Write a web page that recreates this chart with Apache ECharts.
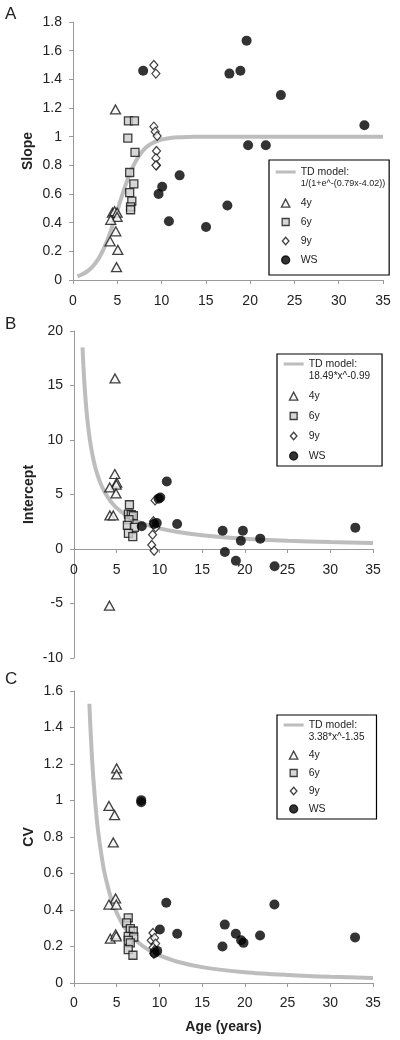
<!DOCTYPE html>
<html><head><meta charset="utf-8">
<script src="https://cdn.jsdelivr.net/npm/echarts@6/dist/echarts.min.js"></script>
<style>html,body{margin:0;padding:0;background:#fff}#c{width:400px;height:1040px}</style>
</head><body><div id="c"></div>
<script>
// ---------- Panel A : Slope ----------
const slope4y = [[4.8,1.19],[4.45,0.47],[4.7,0.48],[4.98,0.47],[4.98,0.44],[4.26,0.42],[4.83,0.34],[4.19,0.27],[5.06,0.21],[4.91,0.09]];
const slope6y = [[6.26,1.11],[6.94,1.11],[6.19,0.99],[7.0,0.89],[6.4,0.75],[6.87,0.67],[6.4,0.61],[6.64,0.55],[6.5,0.51],[6.5,0.49]];
const slope9y = [[9.13,1.50],[9.36,1.44],[9.13,1.07],[9.28,1.035],[9.5,1.005],[9.43,0.90],[9.36,0.85],[9.43,0.80],[9.36,0.80]];
const slopeWS = [[7.92,1.46],[9.66,0.60],[10.07,0.65],[12.04,0.73],[10.83,0.41],[15.02,0.37],[17.43,0.52],[17.66,1.44],[18.9,1.46],[19.6,1.67],[19.77,0.94],[21.77,0.94],[23.47,1.29],[32.9,1.08]];
const slopeModelX = [0.5,1,1.5,2,2.5,3,3.5,4,4.5,5,5.5,6,6.5,7,7.5,8,8.5,9,9.5,10,11,12,13,14,17,20,25,30,35];
const slopeModelY = [0.026,0.038,0.056,0.080,0.115,0.161,0.222,0.297,0.386,0.482,0.581,0.673,0.753,0.819,0.870,0.909,0.937,0.956,0.970,0.980,0.991,0.996,0.998,0.999,1.0,1.0,1.0,1.0,1.0];

// ---------- Panel B : Intercept ----------
const int4y = [[4.8,15.65],[4.78,6.88],[5.0,6.1],[4.95,5.9],[4.18,5.65],[4.92,5.1],[4.2,3.08],[4.6,3.08],[4.15,-5.2]];
const int6y = [[6.49,4.06],[6.37,3.2],[6.7,3.15],[6.95,3.05],[6.43,2.7],[6.25,2.17],[7.07,1.98],[6.37,1.43],[6.88,1.13]];
const int9y = [[9.49,4.46],[9.3,2.55],[9.3,2.35],[9.57,1.98],[9.2,1.31],[9.1,0.37],[9.38,-0.16]];
const intWS = [[7.93,2.08],[9.38,2.29],[9.69,2.39],[9.9,4.62],[10.1,4.72],[10.86,6.2],[12.07,2.29],[17.4,1.68],[17.66,-0.28],[18.95,-1.07],[19.53,0.76],[19.77,1.68],[21.8,0.95],[23.48,-1.59],[32.93,1.96]];
const intModelX = [1,1.1,1.25,1.5,1.75,2,2.25,2.5,3,3.5,4,4.5,5,6,7,8,10,12,15,20,25,30,35];
const intModelY = [18.49,16.82,14.83,12.37,10.62,9.31,8.29,7.46,6.23,5.35,4.69,4.17,3.76,3.14,2.69,2.36,1.89,1.58,1.27,0.95,0.76,0.64,0.55];

// ---------- Panel C : CV ----------
const cv4y = [[4.99,1.176],[4.99,1.143],[4.09,0.97],[4.75,0.92],[4.6,0.77],[4.87,0.463],[4.09,0.43],[4.95,0.43],[4.25,0.243],[4.87,0.267],[4.95,0.256]];
const cv6y = [[6.35,0.357],[6.16,0.33],[6.59,0.298],[6.94,0.285],[6.35,0.256],[7.0,0.252],[6.35,0.234],[6.59,0.22],[6.35,0.183],[6.9,0.152]];
const cv9y = [[9.24,0.274],[9.04,0.234],[9.43,0.247],[9.55,0.216],[9.27,0.194],[9.43,0.18],[9.35,0.16]];
const cvWS = [[7.87,1.002],[7.87,0.99],[10.05,0.293],[10.8,0.44],[12.08,0.27],[9.43,0.165],[9.74,0.176],[17.38,0.2],[17.65,0.32],[18.94,0.27],[19.56,0.234],[19.84,0.22],[21.78,0.26],[23.46,0.43],[32.9,0.25]];
const cvModelX = [1.8,1.9,2,2.1,2.25,2.4,2.5,2.75,3,3.25,3.5,4,4.5,5,5.5,6,7,8,9,10,12,15,20,25,30,35];
const cvModelY = [1.53,1.42,1.33,1.24,1.13,1.04,0.98,0.86,0.77,0.69,0.62,0.52,0.44,0.385,0.338,0.30,0.244,0.204,0.174,0.151,0.118,0.087,0.059,0.044,0.034,0.028];

// ---------- labels ----------
const panelLetters = ['A','B','C'];
const yNames = ['Slope','Intercept','CV'];
const xName = 'Age (years)';
const modelNames = ['TD model:\n1/(1+e^-(0.79x-4.02))','TD model:\n18.49*x^-0.99','TD model:\n3.38*x^-1.35'];
const groupNames = ['4y','6y','9y','WS'];
const xRange = {min:0, max:35, interval:5};
const yRanges = [{min:0,max:1.8,interval:0.2},{min:-10,max:20,interval:5},{min:0,max:1.6,interval:0.2}];

const FONT = 'Liberation Sans, Arial, sans-serif';
const AXIS_COLOR = '#9a9a9a';
const zip = (xs, ys) => xs.map((x,i)=>[x, ys[i]]);

const groupStyles = [
  {symbol:'triangle', symbolSize:[10,9], itemStyle:{color:'#f4f4f4', borderColor:'#111', borderWidth:1.3}},
  {symbol:'rect', symbolSize:8, itemStyle:{color:'#cdcdcd', borderColor:'#111', borderWidth:1.3}},
  {symbol:'diamond', symbolSize:[8,9], itemStyle:{color:'#ffffff', borderColor:'#111', borderWidth:1.2}},
  {symbol:'circle', symbolSize:10, itemStyle:{color:'#000', borderColor:'#000', borderWidth:0}}
];
// legend glyphs drawn inside a 20x9 icon box (anchor moves keep the box size)
const BOX = 'M0,0M20,9';
const legendIcons = [
  'path://' + BOX + 'M5.8,8.6L10,0.6L14.2,8.6Z',
  'path://' + BOX + 'M6.5,1L13.5,1L13.5,8L6.5,8Z',
  'path://' + BOX + 'M10,0.8L13.3,4.5L10,8.2L6.7,4.5Z',
  'path://' + BOX + 'M6,4.5A4,4 0 1 1 14,4.5A4,4 0 1 1 6,4.5Z'
];

const panels = [
  {groups:[slope4y,slope6y,slope9y,slopeWS], model:zip(slopeModelX,slopeModelY)},
  {groups:[int4y,int6y,int9y,intWS], model:zip(intModelX,intModelY)},
  {groups:[cv4y,cv6y,cv9y,cvWS], model:zip(cvModelX,cvModelY)}
];

const grids = [
  {left:73, top:22, width:310, height:258},
  {left:74, top:331, width:299, height:327},
  {left:74, top:691, width:299, height:292}
];
const xLabelMargins = [14,14,13];
// panel B: the x axis sits on y = 0 (moved up from the grid bottom)
const xOffsets = [0, -109, 0];

const xAxes = grids.map((g,i)=>({
  type:'value', gridIndex:i, min:xRange.min, max:xRange.max, interval:xRange.interval,
  position:'bottom', offset:xOffsets[i],
  name: i===2 ? xName : '', nameLocation:'middle', nameGap:37, nameMoveOverlap:false,
  nameTextStyle:{fontFamily:FONT, fontSize:14, fontWeight:'bold', color:'#222'},
  axisLine:{show:true, onZero:false, lineStyle:{color:AXIS_COLOR, width:1}},
  axisTick:{show:true, length:4, lineStyle:{color:AXIS_COLOR}},
  axisLabel:{fontFamily:FONT, fontSize:14, color:'#222', margin:xLabelMargins[i], showMinLabel:true, showMaxLabel:true, hideOverlap:false},
  splitLine:{show:false}
}));
const yAxes = grids.map((g,i)=>({
  type:'value', gridIndex:i, min:yRanges[i].min, max:yRanges[i].max, interval:yRanges[i].interval,
  name:yNames[i], nameLocation:'middle', nameGap:38, nameMoveOverlap:false,
  nameTextStyle:{fontFamily:FONT, fontSize:14, fontWeight:'bold', color:'#222'},
  axisLine:{show:true, onZero:false, lineStyle:{color:AXIS_COLOR, width:1}},
  axisTick:{show:true, length:4, lineStyle:{color:AXIS_COLOR}},
  axisLabel:{fontFamily:FONT, fontSize:14, color:'#222', margin:11},
  splitLine:{show:false}
}));

const series = [];
panels.forEach((p,i)=>{
  series.push({
    type:'line', name:modelNames[i], xAxisIndex:i, yAxisIndex:i, data:p.model,
    smooth:0.3, symbol:'none', showSymbol:false, silent:true, z:1,
    color:'#bdbdbd', itemStyle:{color:'#bdbdbd'},
    lineStyle:{color:'#bdbdbd', width:4}
  });
  p.groups.forEach((d,k)=>{
    series.push(Object.assign({
      type:'scatter', name:groupNames[k], xAxisIndex:i, yAxisIndex:i, data:d, z:3+k
    }, groupStyles[k]));
  });
});

const legendBase = {
  orient:'vertical', align:'left', itemWidth:20, itemHeight:9,
  backgroundColor:'#fff', borderColor:'#000', borderWidth:1.2,
  itemStyle:{borderWidth:1.3},
  textStyle:{fontFamily:FONT, fontSize:10.5, color:'#222', lineHeight:12},
  selectedMode:false
};
const legendPos = [
  {left:269, top:160, itemGap:7, padding:[-6,4,9,6], f:9},
  {left:277, top:354, itemGap:8, padding:[-8,12,4,6], f:10},
  {left:277, top:715, itemGap:6, padding:[-8,12,4,6], f:10}
];
const legends = legendPos.map((lp,i)=>Object.assign({}, legendBase, {
  left:lp.left, top:lp.top, itemGap:lp.itemGap, padding:lp.padding,
  textStyle:Object.assign({}, legendBase.textStyle, {rich:{f:{fontFamily:FONT, fontSize:lp.f, color:'#222', lineHeight:12}}}),
  formatter:(name)=>{
    if (name.indexOf('\n')>=0){ const parts=name.split('\n'); return parts[0]+'\n{f|'+parts[1]+'}'; }
    return name;
  },
  data:[
    {name:modelNames[i], icon:'path://M0,0L20,0L20,3L0,3Z', itemStyle:{color:'#bdbdbd', borderWidth:0}, textStyle:{padding:[12,0,0,0]}},
    ...groupNames.map((n,k)=>({name:n, icon:legendIcons[k]}))
  ]
}));

const titleTops = [6,316,671];
const titles = panelLetters.map((t,i)=>({
  text:t, left:5, top:titleTops[i], padding:0,
  textStyle:{fontFamily:FONT, fontSize:17, fontWeight:'normal', color:'#222'}
}));

const chart = echarts.init(document.getElementById('c'), null, {renderer:'canvas'});
chart.setOption({
  animation:false,
  backgroundColor:'#fff',
  title:titles,
  grid:grids.map(g=>Object.assign({outerBoundsMode:'none'}, g)),
  xAxis:xAxes,
  yAxis:yAxes,
  legend:legends,
  series:series
});
</script>
</body></html>
